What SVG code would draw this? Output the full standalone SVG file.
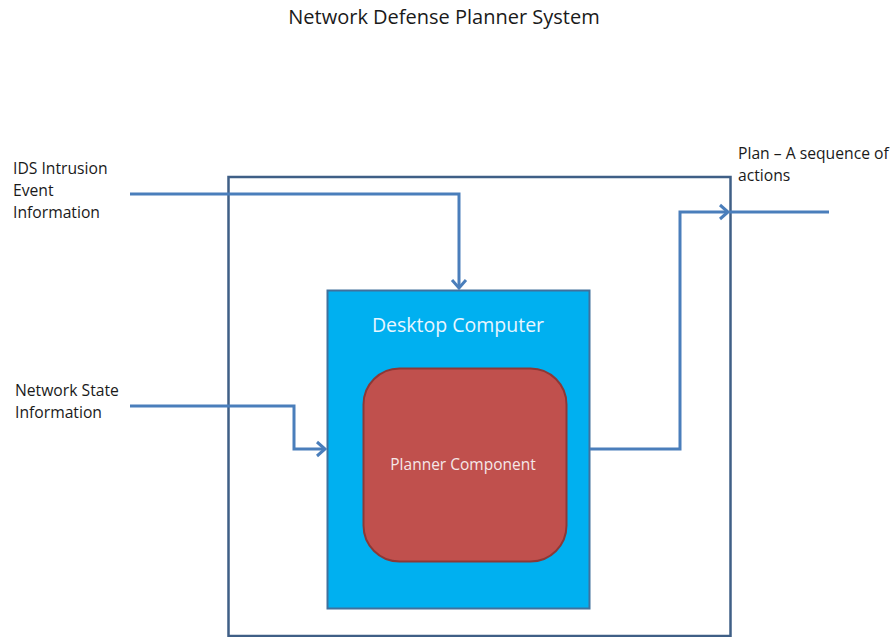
<svg xmlns="http://www.w3.org/2000/svg" width="894" height="637" viewBox="0 0 894 637">
<style>
.lbl{font-family:"Open Sans","Liberation Sans",sans-serif;font-size:15.7px;fill:#1a1a1a}
.conn{fill:none;stroke:#4a7ebb;stroke-width:3;stroke-linejoin:miter}
</style>
<defs>
<marker id="chev" markerWidth="16" markerHeight="18" refX="12" refY="9" orient="auto" markerUnits="userSpaceOnUse">
<path d="M4,2 L12,9 L4,16" fill="none" stroke="#4a7ebb" stroke-width="3"/>
</marker>
</defs>
<rect width="894" height="637" fill="#ffffff"/>
<text x="444" y="24" text-anchor="middle" font-family="'Open Sans','Liberation Sans',sans-serif" font-size="20" fill="#1a1a1a">Network Defense Planner System</text>
<g id="system">
<rect x="228.5" y="177" width="502" height="459" fill="none" stroke="#3f5f86" stroke-width="2.5"/>
</g>
<g id="desktop">
<rect x="327.5" y="290.5" width="262" height="318" fill="#00b0f0" stroke="#41719c" stroke-width="2"/>
<text x="458" y="332" text-anchor="middle" font-family="'Open Sans','Liberation Sans',sans-serif" font-size="19.5" fill="#e8f6ff">Desktop Computer</text>
</g>
<g id="planner">
<rect x="363.5" y="368.5" width="203" height="193" rx="36" ry="36" fill="#c0504d" stroke="#8c3836" stroke-width="2"/>
<text x="463" y="470" text-anchor="middle" font-family="'Open Sans','Liberation Sans',sans-serif" font-size="15.5" fill="#f5e8e8">Planner Component</text>
</g>
<g id="labels">
<text class="lbl" x="13" y="174">IDS Intrusion</text>
<text class="lbl" x="13" y="196">Event</text>
<text class="lbl" x="13" y="218">Information</text>
<text class="lbl" x="15" y="396">Network State</text>
<text class="lbl" x="15" y="418">Information</text>
<text class="lbl" x="738" y="159">Plan – A sequence of</text>
<text class="lbl" x="738" y="181">actions</text>
</g>
<g id="connectors">
<path class="conn" d="M130,194 H459 V288" marker-end="url(#chev)"/>
<path class="conn" d="M130,406 H294 V449 H325" marker-end="url(#chev)"/>
<path class="conn" d="M590,449 H680 V212 H728" marker-end="url(#chev)"/>
<path class="conn" d="M730,212 H829"/>
</g>
</svg>
